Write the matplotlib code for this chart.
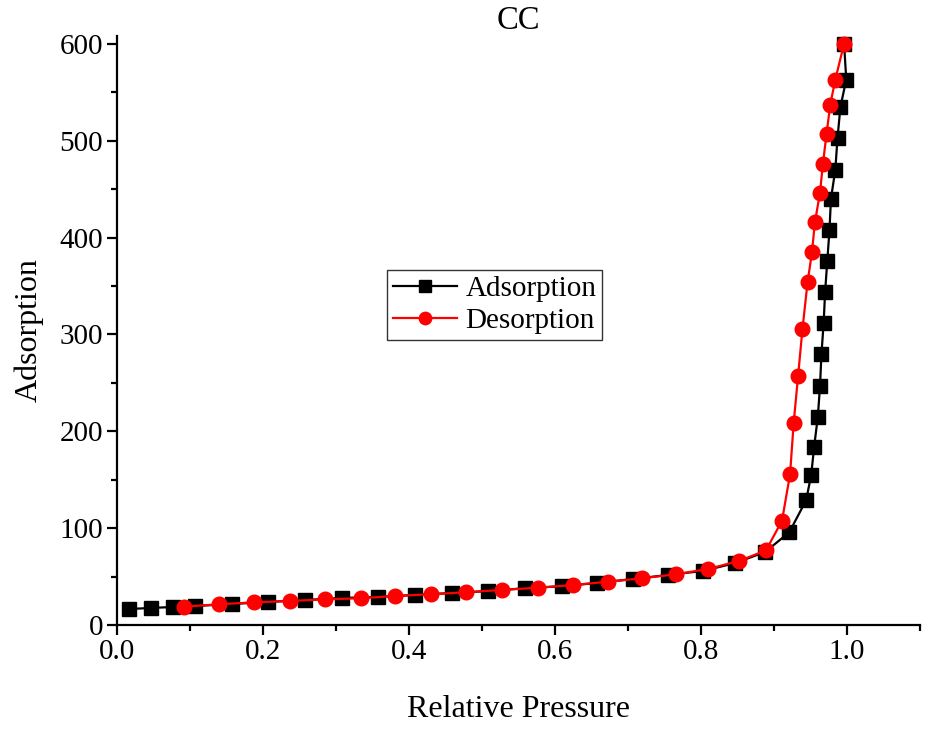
import matplotlib
matplotlib.use("Agg")
import matplotlib.pyplot as plt
from matplotlib.ticker import MultipleLocator, FormatStrFormatter

plt.rcParams['font.family'] = ['Liberation Serif', 'DejaVu Serif']

# Isotherm data (relative pressure vs. adsorbed amount)
ads_p = [0.016, 0.047, 0.077, 0.107, 0.158, 0.207, 0.258, 0.308, 0.358, 0.408,
         0.459, 0.508, 0.559, 0.610, 0.658, 0.707, 0.755, 0.803, 0.847, 0.888,
         0.921, 0.944, 0.951, 0.955, 0.960, 0.963, 0.965, 0.968, 0.970, 0.973,
         0.976, 0.978, 0.984, 0.987, 0.991, 0.999, 0.996]
ads_q = [16.5, 17.6, 18.6, 19.6, 21.7, 23.8, 25.8, 27.9, 28.9, 31.0,
         33.0, 35.0, 38.0, 40.0, 43.4, 47.5, 51.7, 55.8, 64.0, 75.4,
         95.8, 128.8, 155.0, 184.2, 214.6, 246.2, 279.6, 311.7, 343.7, 376.0,
         407.7, 439.8, 470.0, 502.8, 534.8, 563.0, 600.0]

des_p = [0.092, 0.140, 0.188, 0.237, 0.285, 0.334, 0.381, 0.430, 0.478, 0.527,
         0.577, 0.625, 0.673, 0.719, 0.766, 0.810, 0.852, 0.889, 0.911, 0.922,
         0.927, 0.933, 0.939, 0.946, 0.952, 0.956, 0.963, 0.967, 0.972, 0.977,
         0.984, 0.996]
des_q = [19.0, 21.4, 23.4, 24.8, 26.5, 27.6, 30.0, 31.7, 33.8, 36.2,
         38.5, 41.3, 44.7, 48.2, 52.4, 57.9, 66.1, 77.0, 107.7, 155.7,
         209.0, 257.2, 305.5, 354.0, 384.6, 415.6, 446.0, 476.2, 507.0, 536.9,
         563.0, 600.0]

fig = plt.figure(figsize=(9.33, 7.30), dpi=100)
ax = fig.add_axes([117/933, 1 - 625/730, (920 - 117)/933, (625 - 36)/730])

ax.plot(ads_p, ads_q, color='black', lw=1.6, marker='s', ms=9.5,
        mfc='black', mec='black', label='Adsorption', zorder=3)
ax.plot(des_p, des_q, color='red', lw=1.6, marker='o', ms=10.5,
        mfc='red', mec='red', label='Desorption', zorder=4)

ax.set_xlim(0, 1.1)
ax.set_ylim(0, 608)
ax.xaxis.set_major_locator(MultipleLocator(0.2))
ax.xaxis.set_minor_locator(MultipleLocator(0.1))
ax.yaxis.set_major_locator(MultipleLocator(100))
ax.yaxis.set_minor_locator(MultipleLocator(50))
ax.xaxis.set_major_formatter(FormatStrFormatter('%.1f'))

for side in ('top', 'right'):
    ax.spines[side].set_visible(False)
for side in ('left', 'bottom'):
    ax.spines[side].set_linewidth(1.6)

ax.tick_params(which='major', direction='out', length=7, width=1.6,
               labelsize=21, pad=3)
ax.tick_params(which='minor', direction='out', length=4, width=1.6)

ax.set_xlabel('Relative Pressure', fontsize=23, labelpad=22)
ax.set_ylabel('Adsorption', fontsize=23, labelpad=11)
ax.set_title('CC', fontsize=23.5, pad=2)

leg = ax.legend(loc='upper left', bbox_to_anchor=(0.336, 0.603),
                fontsize=21, frameon=True, fancybox=False, edgecolor='black',
                borderpad=0.2, handlelength=2.2, handletextpad=0.3,
                labelspacing=0.2, borderaxespad=0, markerscale=0.85)
leg.get_frame().set_linewidth(1.0)

fig.savefig('out.png', dpi=100)
